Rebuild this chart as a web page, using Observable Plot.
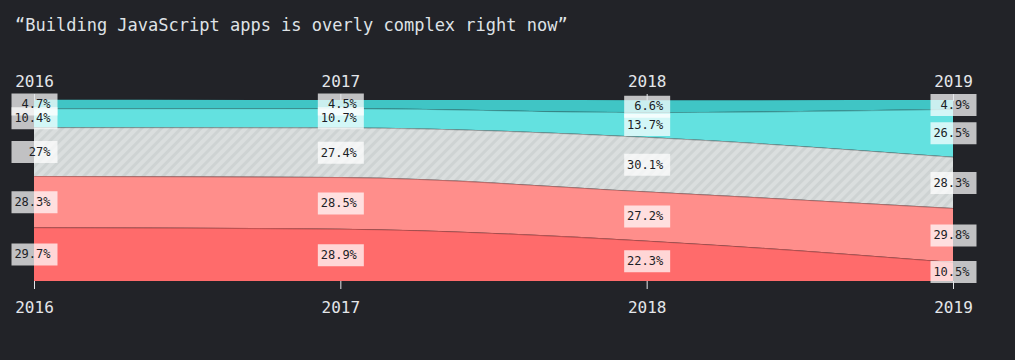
<!DOCTYPE html>
<html><head><meta charset="utf-8">
<script src="https://cdn.jsdelivr.net/npm/d3@7"></script>
<script src="https://cdn.jsdelivr.net/npm/@observablehq/plot@0.6"></script>
<style>
html,body{margin:0;padding:0;background:#222328;}
#title{height:50px;line-height:50px;padding-left:15px;font-size:17px;font-family:"DejaVu Sans Mono",monospace;color:#dfe2e6;white-space:pre;}
</style></head><body>
<div id="title">“Building JavaScript apps is overly complex right now”</div>
<div id="chart"></div>
<script>
const years = [2016, 2017, 2018, 2019];
const keys = ["strongly_agree", "agree", "neutral", "disagree", "strongly_disagree"];
const stronglyAgree = [29.7, 28.9, 22.3, 10.5];
const agree = [28.3, 28.5, 27.2, 29.8];
const neutral = [27, 27.4, 30.1, 28.3];
const disagree = [10.4, 10.7, 13.7, 26.5];
const stronglyDisagree = [4.7, 4.5, 6.6, 4.9];
const colors = ["#ff6b6b", "#ff8e8b", "url(#hatch)", "#63e1e0", "#40c5c5"];

const series = [stronglyAgree, agree, neutral, disagree, stronglyDisagree];
const rows = [];
years.forEach((year, i) => {
  let acc = 0;
  series.forEach((vals, k) => {
    const v = vals[i];
    rows.push({year, key: keys[k], value: v, y1: acc, y2: acc + v, mid: acc + v / 2, label: v + "%"});
    acc += v;
  });
});

const boxSymbol = {draw(ctx) { ctx.rect(-23, -11, 46, 22); }};
const mono = "DejaVu Sans Mono";

const areas = keys.map((k, i) => Plot.areaY(rows.filter(d => d.key === k), {
  x: "year", y1: "y1", y2: "y2", fill: colors[i], curve: "monotone-x"
}));

const svg = Plot.plot({
  width: 1015,
  height: 310,
  marginTop: 50,
  marginBottom: 79,
  marginLeft: 34,
  marginRight: 62,
  style: {background: "transparent", color: "#e4e6ea", fontFamily: mono},
  x: {type: "linear", domain: [2016, 2019]},
  y: {domain: [0, 100], axis: null},
  marks: [
    ...areas,
    Plot.line(rows.filter(d => d.key !== "strongly_disagree"), {
      x: "year", y: "y2", z: "key", curve: "monotone-x", stroke: "#000", strokeOpacity: 0.25, strokeWidth: 1
    }),
    Plot.dot(rows, {x: "year", y: "mid", symbol: boxSymbol, r: 5, fill: "#ffffff", fillOpacity: 0.72, stroke: null}),
    Plot.text(rows, {x: "year", y: "mid", text: "label", textAnchor: "end", dx: 16, fill: "#1c1e26", fontSize: 12, fontFamily: mono}),
    Plot.axisX({anchor: "top", ticks: years, tickFormat: d => String(d), tickSize: 7, tickPadding: 7, fontSize: 16, label: null}),
    Plot.axisX({anchor: "bottom", ticks: years, tickFormat: d => String(d), tickSize: 8, tickPadding: 12, fontSize: 16, label: null})
  ]
});

const defs = d3.select(svg).insert("defs", ":first-child");
const pat = defs.append("pattern").attr("id", "hatch").attr("patternUnits", "userSpaceOnUse")
  .attr("width", 7).attr("height", 7).attr("patternTransform", "rotate(45)");
pat.append("rect").attr("width", 7).attr("height", 7).attr("fill", "#dadede");
pat.append("rect").attr("x", 0).attr("width", 3).attr("height", 7).attr("fill", "#ced3d3");

document.getElementById("chart").appendChild(svg);
</script>
</body></html>
